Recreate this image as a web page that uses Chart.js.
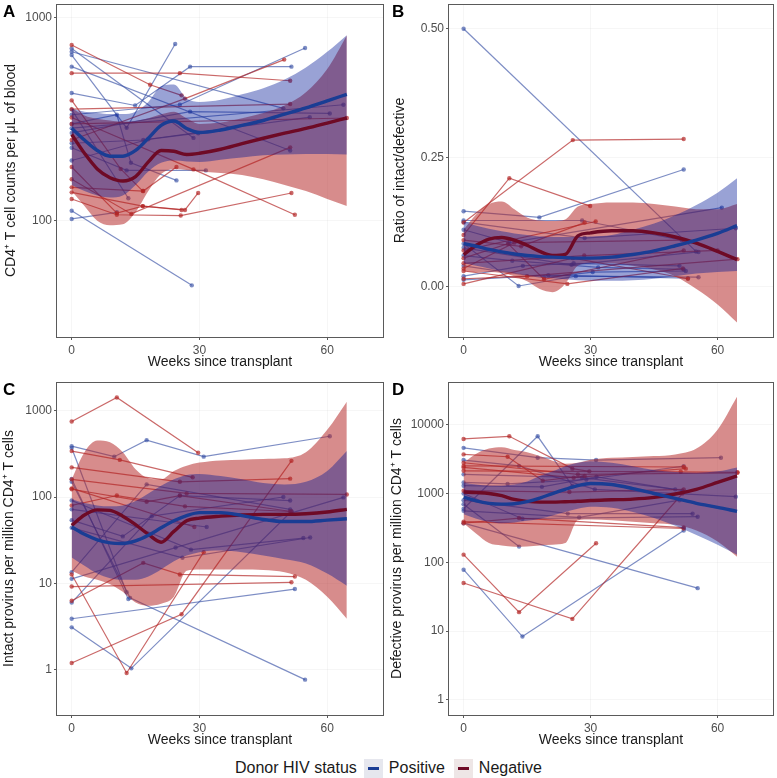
<!DOCTYPE html>
<html>
<head>
<meta charset="utf-8">
<script src="https://cdn.jsdelivr.net/npm/chart.js@4.4.1/dist/chart.umd.min.js"></script>
<style>
  body { margin: 0; background: #fff; width: 777px; height: 778px; position: relative; overflow: hidden;
         font-family: "Liberation Sans", Arial, sans-serif; }
  .panel { position: absolute; width: 389px; height: 378px; }
  .tag { position: absolute; font-weight: bold; font-size: 17px; color: #000; line-height: 17px; }
  #legend { position: absolute; left: 0; top: 758px; width: 777px; height: 20px; display: flex;
            justify-content: center; align-items: center; font-size: 16px; color: #1a1a1a; }
  #legend .key { display: inline-block; width: 19px; height: 19px; margin: 0 6px 0 7px; position: relative; }
  #legend .key i { position: absolute; left: 4px; top: 8px; width: 11px; height: 3px; }
</style>
</head>
<body>
<div class="panel" style="left:0;top:0"><canvas id="chartA" width="389" height="378"></canvas></div>
<div class="panel" style="left:388px;top:0"><canvas id="chartB" width="389" height="378"></canvas></div>
<div class="panel" style="left:0;top:378px"><canvas id="chartC" width="389" height="378"></canvas></div>
<div class="panel" style="left:388px;top:378px"><canvas id="chartD" width="389" height="378"></canvas></div>
<div class="tag" style="left:3px;top:3px">A</div>
<div class="tag" style="left:392px;top:3px">B</div>
<div class="tag" style="left:3px;top:381px">C</div>
<div class="tag" style="left:392px;top:381px">D</div>
<div id="legend">
  <span>Donor HIV status</span>
  <span class="key" style="background:#e6e7ee"><i style="background:#1a3d94"></i></span><span>Positive</span>
  <span class="key" style="background:#eee6e6;margin-left:9px"><i style="background:#6e0a26"></i></span><span>Negative</span>
</div>
<script>
// shared x grid for the smoothed fits
const fitWeeks = [0, 3, 6, 9, 12, 15, 18, 21, 24, 27, 30, 35, 40, 45, 50, 55, 60, 64.6];
const weekTicks = [0, 30, 60];

// Panel A - CD4 counts
const aTicks = [100, 1000];
const aPosFit = [286, 250, 222, 208, 208, 222, 255, 295, 310, 285, 272, 280, 295, 312, 335, 360, 390, 420];
const aPosLo  = [150, 140, 133, 130, 133, 150, 175, 193, 198, 196, 195, 200, 205, 210, 212, 213, 213, 212];
const aPosHi  = [356, 345, 340, 336, 336, 345, 385, 460, 470, 400, 385, 395, 420, 450, 497, 570, 680, 822];
const aNegFit = [266, 215, 180, 163, 157, 165, 195, 222, 220, 212, 215, 225, 240, 255, 270, 285, 303, 321];
const aNegLo  = [140, 118, 100, 95, 96, 110, 140, 170, 180, 178, 175, 172, 168, 160, 150, 140, 128, 118];
const aNegHi  = [360, 330, 318, 312, 308, 310, 320, 335, 345, 320, 300, 305, 320, 340, 370, 430, 560, 820];
const aPosSubjects = [
  [[0, 681], [49.7, 358]], [[0, 656], [12.9, 287], [24.3, 744]], [[0, 707], [28.6, 256]],
  [[0, 575], [51.3, 222]], [[0, 426], [14.9, 370], [27.8, 575], [51.6, 575]], [[0, 353], [13.3, 129]],
  [[0, 333], [25.4, 373], [54.8, 711]], [[0, 300], [10.6, 333], [13.9, 193], [24.6, 158]],
  [[0, 271], [27.8, 345], [60.6, 338]], [[0, 241], [16.8, 250], [55.9, 324]],
  [[0, 229], [12.9, 177], [31.5, 177]], [[0, 198], [18, 252], [29.7, 270]],
  [[0, 286], [63.8, 373]], [[0, 112], [28.2, 48]], [[0, 102], [10.6, 110]]
];
const aNegSubjects = [
  [[0, 735], [18.4, 468], [25.8, 415]], [[0, 534], [25.4, 534], [51.3, 490]],
  [[0, 392], [11.5, 180], [16.7, 140]], [[0, 184], [10.6, 109], [16.7, 118], [25.8, 113]],
  [[0, 146], [16.8, 140], [24.6, 184]], [[0, 138], [16.7, 118], [26.6, 113], [29.7, 137]],
  [[0, 128], [10.6, 107], [25.6, 106], [51.6, 137]], [[0, 323], [28.6, 179], [52.4, 107]],
  [[0, 250], [26.6, 400], [49.9, 623]], [[0, 355], [51.3, 376]], [[0, 300], [64.6, 321]],
  [[0, 160], [14, 108], [51.3, 230]]
];

// Panel B - intact/defective ratio
const bTicks = [0, 0.25, 0.5];
const bPosFit = [0.083, 0.078, 0.072, 0.067, 0.063, 0.060, 0.058, 0.057, 0.056, 0.055, 0.055, 0.057, 0.062, 0.069, 0.079, 0.090, 0.103, 0.118];
const bPosLo  = [0.045, 0.040, 0.035, 0.030, 0.026, 0.022, 0.019, 0.016, 0.014, 0.012, 0.011, 0.011, 0.012, 0.015, 0.020, 0.025, 0.028, 0.030];
const bPosHi  = [0.125, 0.118, 0.112, 0.107, 0.103, 0.100, 0.097, 0.096, 0.096, 0.096, 0.097, 0.100, 0.110, 0.122, 0.138, 0.158, 0.182, 0.210];
const bNegFit = [0.062, 0.080, 0.092, 0.095, 0.090, 0.080, 0.068, 0.060, 0.062, 0.098, 0.104, 0.108, 0.108, 0.104, 0.096, 0.084, 0.068, 0.052];
const bNegLo  = [0.030, 0.028, 0.028, 0.026, 0.020, 0.010, -0.005, -0.011, 0.005, 0.040, 0.045, 0.045, 0.040, 0.033, 0.020, -0.005, -0.035, -0.070];
const bNegHi  = [0.110, 0.140, 0.160, 0.165, 0.150, 0.134, 0.128, 0.127, 0.130, 0.155, 0.160, 0.163, 0.163, 0.160, 0.155, 0.150, 0.150, 0.160];
const bPosSubjects = [
  [[0, 0.50], [54.9, 0.068]], [[0, 0.146], [17.9, 0.134], [52, 0.227]], [[0, 0.125], [28.6, 0.094], [64.3, 0.113]],
  [[0, 0.083], [13, 0.001], [26.5, 0.02], [55.5, 0.018]], [[0, 0.06], [11.5, 0.05], [31.8, 0.037], [52, 0.033]],
  [[0, 0.04], [19, 0.017], [30.5, 0.028], [52.5, 0.03]], [[0, 0.02], [14, 0.04], [26, 0.045], [51, 0.04]],
  [[0, 0.11], [10.8, 0.085], [61, 0.153]], [[0, 0.075], [25.5, 0.042], [55.5, 0.067]],
  [[0, 0.013], [20, 0.022], [53, 0.016]], [[0, 0.128], [28, 0.128], [51.5, 0.09]]
];
const bNegSubjects = [
  [[0, 0.10], [10.8, 0.21], [29.9, 0.156]], [[0, 0.124], [25.8, 0.284], [52, 0.286]],
  [[0, 0.09], [13.6, 0.078], [28.6, 0.124]], [[0, 0.07], [31.2, 0.126]],
  [[0, 0.055], [10.5, 0.083], [19, 0.014], [52, 0.07]], [[0, 0.03], [24.5, 0.005], [51.8, 0.035]],
  [[0, 0.015], [15, 0.02], [64.7, 0.053]], [[0, 0.005], [25.8, 0.055], [53, 0.015]],
  [[0, 0.035], [12, 0.085], [52, 0.09]], [[0, 0.045], [28.5, 0.06], [60, 0.07]]
];

// Panel C - intact provirus
const cTicks = [1, 10, 100, 1000];
const cPosFit = [45, 37, 32, 29.5, 29, 31, 36, 44, 53, 61, 66, 66, 61, 55, 52, 52, 54, 56];
const cPosLo  = [20, 16, 13, 11.5, 11, 11, 12, 14.5, 18, 21, 23, 24, 23, 21, 19, 17, 13, 9.4];
const cPosHi  = [95, 85, 80, 78, 80, 90, 110, 135, 160, 180, 185, 175, 160, 145, 140, 150, 200, 340];
const cNegFit = [47, 62, 71, 70, 60, 48, 37, 30, 40, 53, 57, 60, 62, 63, 63, 64, 67, 72];
const cNegLo  = [14, 12, 11, 9.8, 8, 6, 5.5, 5.8, 7, 14, 14.5, 14.5, 14.5, 14.3, 13.5, 11, 7, 3.9];
const cNegHi  = [160, 330, 450, 430, 330, 210, 165, 160, 200, 230, 250, 265, 270, 275, 280, 330, 600, 1270];
const cPosSubjects = [
  [[0, 388], [10, 293], [17.6, 455], [31, 293], [60.6, 505]], [[0, 370], [12.9, 7.9]],
  [[0, 162], [13.3, 6.6]], [[0, 150], [13.7, 6.8], [54.8, 0.77]], [[0, 91], [28, 24.6], [54.4, 33.5]],
  [[0, 72], [31.7, 45]], [[0, 54], [12, 35], [25.4, 104], [51.3, 91]], [[0, 44], [26, 19.8], [56, 34]],
  [[0, 13.5], [17.6, 140], [51.3, 72]], [[0, 11.3], [24.4, 26], [63.8, 99]],
  [[0, 6.0], [18.8, 60], [49.7, 100]], [[0, 3.9], [52.4, 8.6]], [[0, 3.1], [14, 1.04], [51.6, 68]]
];
const cNegSubjects = [
  [[0, 748], [10.6, 1419], [29.7, 325]], [[0, 340], [11.3, 269], [28.4, 169]],
  [[0, 220], [25.4, 150], [51.3, 163]], [[0, 123], [17.6, 88], [25.4, 104], [51.6, 68]],
  [[0, 80], [10.6, 104], [26.6, 78], [51.3, 68]], [[0, 12.7], [12.9, 0.92], [31, 23]],
  [[0, 6.3], [16.8, 17.3], [25.4, 12.7], [52.4, 12]], [[0, 9.2], [51.6, 10.3]],
  [[0, 1.2], [25.8, 4.4], [51.6, 262]], [[0, 160], [27, 110], [64.6, 107]], [[0, 126], [28.8, 45]]
];

// Panel D - defective provirus
const dTicks = [1, 10, 100, 1000, 10000];
const dPosFit = [885, 780, 720, 700, 710, 760, 860, 1000, 1150, 1300, 1400, 1350, 1180, 1000, 850, 720, 630, 550];
const dPosLo  = [500, 430, 390, 370, 380, 400, 430, 480, 540, 600, 640, 620, 540, 440, 340, 250, 180, 129];
const dPosHi  = [1450, 1350, 1300, 1300, 1350, 1500, 1800, 2100, 2500, 2800, 2950, 2800, 2500, 2200, 2050, 2000, 2100, 2400];
const dNegFit = [1050, 1030, 1000, 930, 820, 770, 750, 750, 760, 770, 790, 810, 830, 880, 985, 1150, 1450, 1810];
const dNegLo  = [370, 260, 190, 175, 168, 170, 175, 180, 190, 410, 420, 410, 390, 370, 350, 290, 200, 120];
const dNegHi  = [2800, 3800, 4500, 4700, 4300, 4000, 3500, 3000, 2700, 2800, 3100, 3300, 3400, 3500, 3700, 4500, 8500, 25600];
const dPosSubjects = [
  [[0, 78], [13.9, 8.3], [52, 290]], [[0, 370], [55.3, 42]],
  [[0, 4620], [17.5, 3320], [31.3, 3070], [60.8, 3320]], [[0, 600], [17.5, 6800], [25.7, 1290]],
  [[0, 3070], [13.1, 2520], [31, 1150], [64.3, 900]], [[0, 1450], [10.4, 1380], [29, 1600], [52, 2500]],
  [[0, 1000], [13.9, 430], [55.3, 460]], [[0, 800], [24.6, 510], [54.1, 509]],
  [[0, 1900], [28, 1700], [50, 1150]], [[0, 700], [13.1, 169]],
  [[0, 1300], [18.5, 1250], [31.4, 1750], [51.7, 1100]], [[0, 560], [27.3, 450], [51, 800]]
];
const dNegSubjects = [
  [[0, 6220], [10.8, 6800], [25.7, 2300], [29.7, 2100]], [[0, 3710], [10.4, 3430], [18.7, 1540], [28.6, 1800]],
  [[0, 2520], [52, 2430]], [[0, 2140], [51.3, 2070], [64.7, 2040]], [[0, 129], [13.1, 18.8], [31.3, 189]],
  [[0, 50], [25.7, 15], [51.7, 1000]], [[0, 390], [52, 310]], [[0, 2400], [26, 1700], [52.5, 2300]],
  [[0, 1100], [25, 1050], [52, 1150]], [[0, 370], [13.1, 440], [52, 320]], [[0, 2800], [27, 1900], [64.7, 2000]]
];

const posLine = 'rgba(55, 80, 165, 0.65)';
const negLine = 'rgba(180, 40, 40, 0.7)';
const posBand = 'rgba(0, 22, 150, 0.4)';
const negBand = 'rgba(178, 34, 34, 0.52)';
const posFitColor = '#1a3d94';
const negFitColor = '#6e0a26';
const font = '"Liberation Sans", Arial, sans-serif';

// panel border like ggplot's theme
const frame = {
  id: 'frame',
  afterDraw(chart) {
    const { ctx, chartArea: a } = chart;
    ctx.save();
    ctx.strokeStyle = '#5a5a5a';
    ctx.lineWidth = 1;
    ctx.strokeRect(Math.round(a.left) - 0.5, Math.round(a.top) + 0.5,
      Math.round(a.right - a.left) + 1, Math.round(a.bottom - a.top));
    ctx.restore();
  }
};

function subjectSets(list, color) {
  return list.map(s => ({
    data: s.map(p => ({ x: p[0], y: p[1] })),
    borderColor: color, backgroundColor: color, pointBackgroundColor: color,
    borderWidth: 1.2, pointRadius: 2.2, pointBorderWidth: 0, tension: 0, order: 3
  }));
}

function bandSets(lo, hi, color, order) {
  return [
    { data: fitWeeks.map((w, i) => ({ x: w, y: hi[i] })), borderWidth: 0, pointRadius: 0,
      cubicInterpolationMode: 'monotone', fill: false, order: order },
    { data: fitWeeks.map((w, i) => ({ x: w, y: lo[i] })), borderWidth: 0, pointRadius: 0,
      cubicInterpolationMode: 'monotone', fill: '-1', backgroundColor: color, order: order }
  ];
}

function fitSet(vals, color) {
  return { data: fitWeeks.map((w, i) => ({ x: w, y: vals[i] })), borderColor: color, borderWidth: 3.4,
    pointRadius: 0, cubicInterpolationMode: 'monotone', fill: false, order: 0 };
}

function makePanel(id, p) {
  const datasets = [
    fitSet(p.posFit, posFitColor),
    fitSet(p.negFit, negFitColor),
    ...bandSets(p.posLo, p.posHi, posBand, 1),
    ...bandSets(p.negLo, p.negHi, negBand, 2),
    ...subjectSets(p.neg, negLine),
    ...subjectSets(p.pos, posLine)
  ];
  new Chart(document.getElementById(id).getContext('2d'), {
    type: 'line',
    data: { datasets: datasets },
    options: {
      responsive: false,
      animation: false,
      layout: { padding: { top: 2, right: p.padRight, left: 0, bottom: 0 } },
      plugins: { legend: { display: false }, tooltip: { enabled: false } },
      scales: {
        x: {
          type: 'linear', min: -3.45, max: 73.1,
          afterBuildTicks: s => { s.ticks = weekTicks.map(v => ({ value: v })); },
          afterFit: s => { s.height = 41; s.paddingLeft = 0; s.paddingRight = 0; },
          ticks: { color: '#4d4d4d', font: { family: font, size: 12 }, padding: 3 },
          grid: { color: 'rgba(0,0,0,0.035)', tickColor: '#5a5a5a', tickLength: 3 },
          border: { display: false },
          title: { display: true, text: 'Weeks since transplant', color: '#1a1a1a',
                   font: { family: font, size: 14 }, padding: { top: 0, bottom: 7 } }
        },
        y: {
          type: p.yType, min: p.yMin, max: p.yMax,
          afterBuildTicks: s => { s.ticks = p.ticks.map(v => ({ value: v })); },
          afterFit: s => { s.width = p.yWidth; s.paddingTop = 0; s.paddingBottom = 0; },
          ticks: { color: '#4d4d4d', font: { family: font, size: 12 }, padding: 2, callback: p.fmt },
          grid: { color: 'rgba(0,0,0,0.035)', tickColor: '#5a5a5a', tickLength: 3 },
          border: { display: false },
          title: { display: true, text: p.title, color: '#1a1a1a',
                   font: { family: font, size: 14 }, padding: { top: p.titlePad, bottom: 0 } }
        }
      }
    },
    plugins: [frame]
  });
}

makePanel('chartA', {
  yType: 'logarithmic', yMin: 26.7, yMax: 1171, ticks: aTicks, fmt: v => String(v),
  title: 'CD4\u207A T cell counts per \u03BCL of blood', yWidth: 57, padRight: 6, titlePad: 3,
  posFit: aPosFit, posLo: aPosLo, posHi: aPosHi, negFit: aNegFit, negLo: aNegLo, negHi: aNegHi,
  pos: aPosSubjects, neg: aNegSubjects
});
makePanel('chartB', {
  yType: 'linear', yMin: -0.098, yMax: 0.548, ticks: bTicks, fmt: v => Number(v).toFixed(2),
  title: 'Ratio of intact/defective', yWidth: 61, padRight: 2, titlePad: 4,
  posFit: bPosFit, posLo: bPosLo, posHi: bPosHi, negFit: bNegFit, negLo: bNegLo, negHi: bNegHi,
  pos: bPosSubjects, neg: bNegSubjects
});
makePanel('chartC', {
  yType: 'logarithmic', yMin: 0.312, yMax: 2143, ticks: cTicks, fmt: v => String(v),
  title: 'Intact provirus per million CD4\u207A T cells', yWidth: 57, padRight: 6, titlePad: 1,
  posFit: cPosFit, posLo: cPosLo, posHi: cPosHi, negFit: cNegFit, negLo: cNegLo, negHi: cNegHi,
  pos: cPosSubjects, neg: cNegSubjects
});
makePanel('chartD', {
  yType: 'logarithmic', yMin: 0.623, yMax: 41900, ticks: dTicks, fmt: v => String(v),
  title: 'Defective provirus per million CD4\u207A T cells', yWidth: 61, padRight: 2, titlePad: 1,
  posFit: dPosFit, posLo: dPosLo, posHi: dPosHi, negFit: dNegFit, negLo: dNegLo, negHi: dNegHi,
  pos: dPosSubjects, neg: dNegSubjects
});
</script>
</body>
</html>
